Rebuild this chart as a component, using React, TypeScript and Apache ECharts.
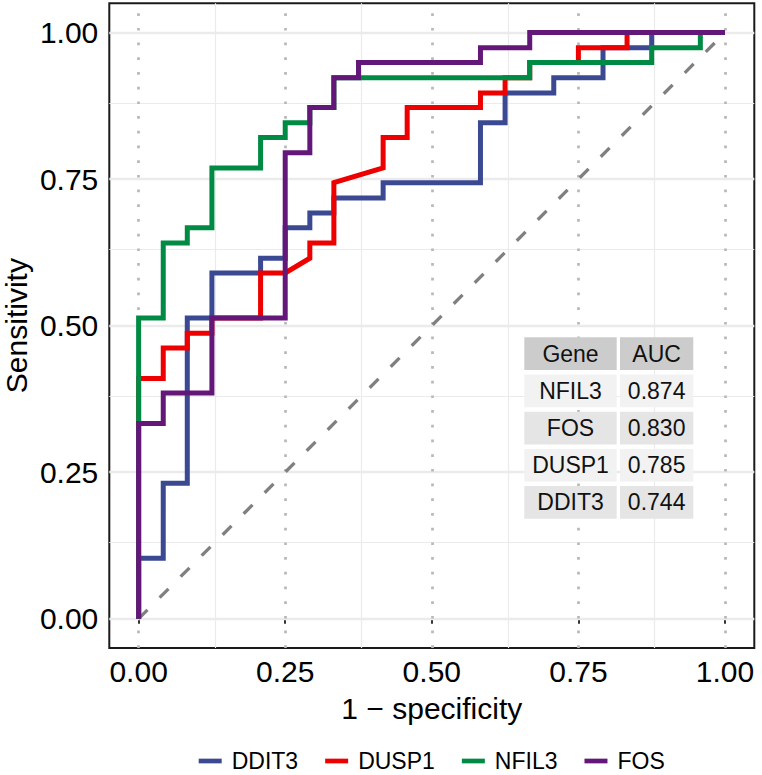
import React, { useEffect, useRef } from "react";
import * as echarts from "echarts";

const FONT = "'Liberation Sans', Arial, Helvetica, sans-serif";

// ROC curves (1 - specificity, sensitivity) vertices
const seriesNames = ["DDIT3", "DUSP1", "NFIL3", "FOS"];
const seriesColors = ["#3B4992", "#EE0000", "#008B45", "#631879"];

const ddit3X = [0, 0, 0.042, 0.042, 0.083, 0.083, 0.125, 0.125, 0.208, 0.208, 0.25, 0.25, 0.292, 0.292, 0.333, 0.333, 0.417, 0.417, 0.583, 0.583, 0.625, 0.625, 0.708, 0.708, 0.792, 0.792, 0.875, 0.875, 1];
const ddit3Y = [0, 0.103, 0.103, 0.231, 0.231, 0.513, 0.513, 0.59, 0.59, 0.615, 0.615, 0.667, 0.667, 0.692, 0.692, 0.718, 0.718, 0.744, 0.744, 0.846, 0.846, 0.897, 0.897, 0.923, 0.923, 0.974, 0.974, 1, 1];

const dusp1X = [0, 0, 0.042, 0.042, 0.083, 0.083, 0.125, 0.125, 0.208, 0.208, 0.25, 0.292, 0.292, 0.333, 0.333, 0.417, 0.417, 0.458, 0.458, 0.583, 0.583, 0.625, 0.625, 0.667, 0.667, 0.75, 0.75, 0.833, 0.833, 1];
const dusp1Y = [0, 0.41, 0.41, 0.462, 0.462, 0.487, 0.487, 0.513, 0.513, 0.59, 0.59, 0.615, 0.641, 0.641, 0.744, 0.769, 0.821, 0.821, 0.872, 0.872, 0.897, 0.897, 0.923, 0.923, 0.949, 0.949, 0.974, 0.974, 1, 1];

const nfil3X = [0, 0, 0.042, 0.042, 0.083, 0.083, 0.125, 0.125, 0.208, 0.208, 0.25, 0.25, 0.292, 0.292, 0.333, 0.333, 0.667, 0.667, 0.875, 0.875, 0.958, 0.958, 1];
const nfil3Y = [0, 0.513, 0.513, 0.641, 0.641, 0.667, 0.667, 0.769, 0.769, 0.821, 0.821, 0.846, 0.846, 0.872, 0.872, 0.923, 0.923, 0.949, 0.949, 0.974, 0.974, 1, 1];

const fosX = [0, 0, 0.042, 0.042, 0.125, 0.125, 0.25, 0.25, 0.292, 0.292, 0.333, 0.333, 0.375, 0.375, 0.583, 0.583, 0.667, 0.667, 1];
const fosY = [0, 0.333, 0.333, 0.385, 0.385, 0.513, 0.513, 0.795, 0.795, 0.872, 0.872, 0.923, 0.923, 0.949, 0.949, 0.974, 0.974, 1, 1];

const curvesX = [ddit3X, dusp1X, nfil3X, fosX];
const curvesY = [ddit3Y, dusp1Y, nfil3Y, fosY];

// reference diagonal
const diagX = [0, 1];
const diagY = [0, 1];

// axis ticks and grid breaks
const tickValues = [0, 0.25, 0.5, 0.75, 1];
const minorBreaks = [0.125, 0.375, 0.625, 0.875];

// AUC table
const tableHeader = ["Gene", "AUC"];
const tableGenes = ["NFIL3", "FOS", "DUSP1", "DDIT3"];
const tableAuc = ["0.874", "0.830", "0.785", "0.744"];

const zip = (xs: number[], ys: number[]) => xs.map((x, i) => [x, ys[i]]);

function buildTable() {
  const left = 524.3;
  const colW = [92.4, 73.3];
  const colGap = 3.3;
  const top = 337.3;
  const rowH = 32.7;
  const pitch = 37.2;
  const rows = [tableHeader, ...tableGenes.map((g, i) => [g, tableAuc[i]])];
  const fills = ["#cccccc", "#f2f2f2", "#e5e5e5", "#f2f2f2", "#e5e5e5"];
  const rects: any[] = [];
  const texts: any[] = [];
  rows.forEach((row, r) => {
    let x = left;
    row.forEach((cell, c) => {
      const y = top + r * pitch;
      rects.push({
        type: "rect",
        z: 100,
        shape: { x, y, width: colW[c], height: rowH },
        style: { fill: fills[r] },
        silent: true,
      });
      texts.push({
        type: "text",
        z: 101,
        x: x + colW[c] / 2,
        y: y + rowH / 2,
        style: {
          text: cell,
          fill: "#111111",
          font: `23px ${FONT}`,
          textAlign: "center",
          textVerticalAlign: "middle",
          align: "center",
          verticalAlign: "middle",
        },
        silent: true,
      });
      x += colW[c] + colGap;
    });
  });
  return [...rects, ...texts];
}

function gridMarkLines() {
  const data: any[] = [];
  tickValues.forEach((v) =>
    data.push({ yAxis: v, lineStyle: { color: "#ebebeb", width: 2.4, type: "solid" } })
  );
  minorBreaks.forEach((v) =>
    data.push({ yAxis: v, lineStyle: { color: "#ebebeb", width: 1.2, type: "solid" } })
  );
  minorBreaks.forEach((v) =>
    data.push({ xAxis: v, lineStyle: { color: "#ebebeb", width: 1.2, type: "solid" } })
  );
  tickValues.forEach((v) =>
    data.push({ xAxis: v, lineStyle: { color: "#b8b8b8", width: 2.7, type: [2.7, 12], cap: "butt" } })
  );
  return data;
}

export default function App() {
  const ref = useRef<HTMLDivElement>(null);
  useEffect(() => {
    const chart = echarts.init(ref.current!, null, { renderer: "svg" });
    const axisCommon = {
      type: "value" as const,
      min: -0.05,
      max: 1.05,
      axisLine: { show: false },
      axisTick: {
        show: true,
        length: 5,
        customValues: tickValues,
        lineStyle: { color: "#333333", width: 2 },
      },
      splitLine: { show: false },
      nameLocation: "middle" as const,
      nameMoveOverlap: false,
      nameTextStyle: { fontSize: 30, color: "#000", fontFamily: FONT },
    };
    const option: any = {
      animation: false,
      backgroundColor: "#ffffff",
      textStyle: { fontFamily: FONT },
      grid: {
        left: 109.3,
        right: 7.7,
        top: 3.3,
        bottom: 127,
        show: true,
        borderColor: "#1a1a1a",
        borderWidth: 2,
        backgroundColor: "transparent",
        containLabel: false,
        outerBoundsMode: "none",
      },
      xAxis: {
        ...axisCommon,
        position: "bottom",
        name: "1 \u2212 specificity",
        nameGap: 45,
        axisLabel: {
          customValues: tickValues,
          formatter: (v: number) => v.toFixed(2),
          fontSize: 30,
          color: "#000",
          fontFamily: FONT,
          margin: 8,
        },
      },
      yAxis: {
        ...axisCommon,
        position: "left",
        name: "Sensitivity",
        nameRotate: 90,
        nameGap: 78,
        axisLabel: {
          customValues: tickValues,
          formatter: (v: number) => v.toFixed(2),
          fontSize: 30,
          color: "#000",
          fontFamily: FONT,
          margin: 11,
        },
      },
      legend: {
        data: seriesNames,
        left: 193.7,
        top: 744.5,
        icon: "rect",
        itemWidth: 23,
        itemHeight: 4.7,
        itemGap: 27,
        textStyle: { fontSize: 23, color: "#000", fontFamily: FONT, padding: [0, 0, 0, 5] },
        selectedMode: false,
      },
      graphic: buildTable(),
      series: [
        {
          type: "line",
          name: "grid",
          data: [],
          silent: true,
          markLine: {
            silent: true,
            z: 1,
            symbol: ["none", "none"],
            label: { show: false },
            emphasis: { disabled: true },
            data: gridMarkLines(),
          },
        },
        ...seriesNames.map((name, i) => ({
          type: "line",
          name,
          data: zip(curvesX[i], curvesY[i]),
          symbol: "none",
          showSymbol: false,
          color: seriesColors[i],
          itemStyle: { color: seriesColors[i] },
          lineStyle: { color: seriesColors[i], width: 5, cap: "butt", join: "miter" },
          emphasis: { disabled: true },
          z: 3 + i,
        })),
        {
          type: "line",
          name: "diagonal",
          data: zip(diagX, diagY),
          symbol: "none",
          silent: true,
          lineStyle: { color: "#808080", width: 3.3, type: [12.5, 17.2], cap: "butt" },
          emphasis: { disabled: true },
          z: 2,
        },
      ],
    };
    chart.setOption(option);
    return () => chart.dispose();
  }, []);
  return (
    <div
      ref={ref}
      style={{ position: "fixed", left: 0, top: 0, width: 762, height: 775, background: "#fff" }}
    />
  );
}
